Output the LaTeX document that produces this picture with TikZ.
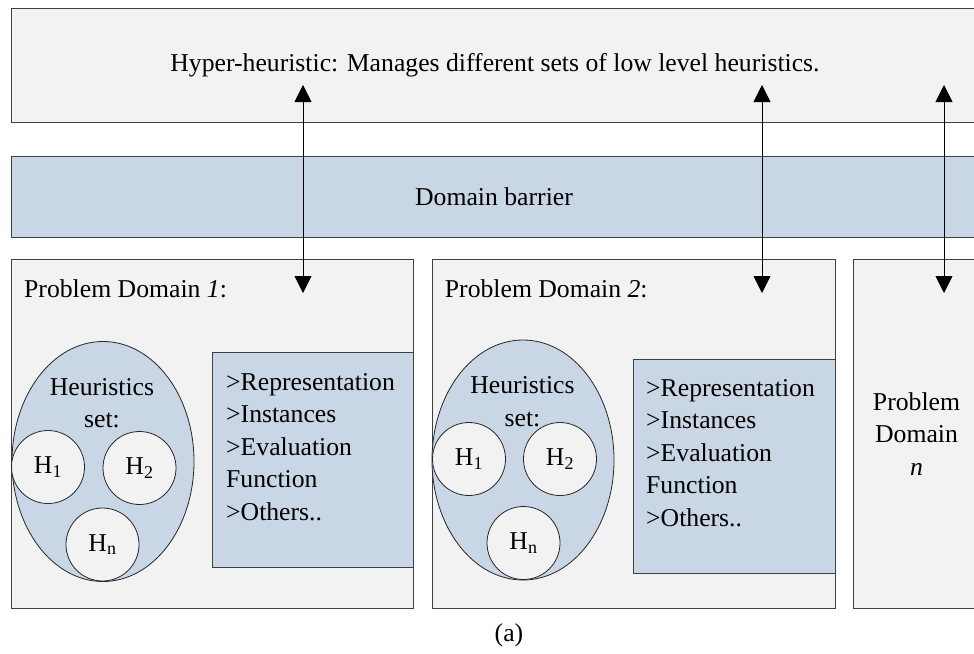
\documentclass[tikz,border=0pt]{standalone}
\usepackage{fontspec}
\setmainfont{Liberation Serif}
\usetikzlibrary{arrows.meta,positioning,shapes.geometric}
\definecolor{panelgray}{RGB}{242,242,242}
\definecolor{barrierblue}{RGB}{201,214,229}
\tikzset{
  panel/.style   = {draw=black!75, line width=1pt, fill=panelgray, inner sep=0pt},
  bluebox/.style = {draw=black!75, line width=1pt, fill=barrierblue, inner sep=0pt},
  hset/.style    = {ellipse, draw=black!85, line width=0.8pt, fill=barrierblue,
                    minimum width=182pt, minimum height=240pt, inner sep=0pt},
  heur/.style    = {circle, draw=black!85, line width=0.8pt, fill=panelgray,
                    minimum size=73pt, inner sep=0pt},
  txt/.style     = {font=\fontsize{25.7}{32.5}\selectfont, inner sep=0pt},
  link/.style    = {{Triangle[length=17pt,width=17pt]}-{Triangle[length=17pt,width=17pt]},
                    line width=0.8pt},
}

\begin{document}
\begin{tikzpicture}[x=1pt,y=-1pt]
  \clip (0,0) rectangle (974,653);

  % ---------------- top layers -------------------------------------------
  \node[panel,txt,minimum width=968pt,minimum height=114pt] (hyper) at (495,65)
       {Hyper-heuristic: Manages different sets of low level heuristics.};
  \node[bluebox,txt,minimum width=966pt,minimum height=81pt] (barrier) at (494,196.5)
       {Domain barrier};

  % ---------------- problem domain 1 -------------------------------------
  \node[panel,minimum width=402pt,minimum height=349pt,anchor=north west] (dom1) at (11,259) {};
  \node[txt,anchor=base west] (title1) at (24,297) {Problem Domain \textit{1}:};
  \node[hset] (set1) at (103,461.5) {};
  \node[txt,align=center] (setlbl1) at (102,403) {Heuristics\\set:};
  \node[heur,txt] (h11) at (48,467) {H\textsubscript{1}};
  \node[heur,txt] (h12) at (139.5,468) {H\textsubscript{2}};
  \node[heur,txt] (h1n) at (102.5,544.5) {H\textsubscript{n}};
  \node[bluebox,minimum width=201pt,minimum height=215pt,anchor=north west] (info1) at (212,352) {};
  \node[txt,align=left,anchor=north west] (infotxt1) at (226,373)
       {>Representation\\>Instances\\>Evaluation\\Function\\>Others..};

  % ---------------- problem domain 2 -------------------------------------
  \node[panel,minimum width=403pt,minimum height=349pt,anchor=north west] (dom2) at (431.7,259) {};
  \node[txt,anchor=base west] (title2) at (444.7,297) {Problem Domain \textit{2}:};
  \node[hset] (set2) at (523,460) {};
  \node[txt,align=center] (setlbl2) at (522.5,401.5) {Heuristics\\set:};
  \node[heur,txt] (h21) at (469,459) {H\textsubscript{1}};
  \node[heur,txt] (h22) at (560,459) {H\textsubscript{2}};
  \node[heur,txt] (h2n) at (523.5,543) {H\textsubscript{n}};
  \node[bluebox,minimum width=202pt,minimum height=214pt,anchor=north west] (info2) at (633.4,359) {};
  \node[txt,align=left,anchor=north west] (infotxt2) at (646,379)
       {>Representation\\>Instances\\>Evaluation\\Function\\>Others..};

  % ---------------- problem domain n -------------------------------------
  \node[panel,minimum width=200pt,minimum height=349pt,anchor=north west] (domn) at (852.7,259) {};
  \node[txt,align=center] (titlen) at (916.5,434) {Problem\\Domain\\\textit{n}};

  % ---------------- links ------------------------------------------------
  \coordinate (up1) at (303,85);   \coordinate (down1) at (303,293);
  \coordinate (up2) at (762,85);   \coordinate (down2) at (762,293);
  \coordinate (upn) at (944,85);   \coordinate (downn) at (944,293);
  \draw[link] (up1) -- (down1);
  \draw[link] (up2) -- (down2);
  \draw[link] (upn) -- (downn);

  \node[txt] (caption) at (509,635) {(a)};
\end{tikzpicture}
\end{document}
